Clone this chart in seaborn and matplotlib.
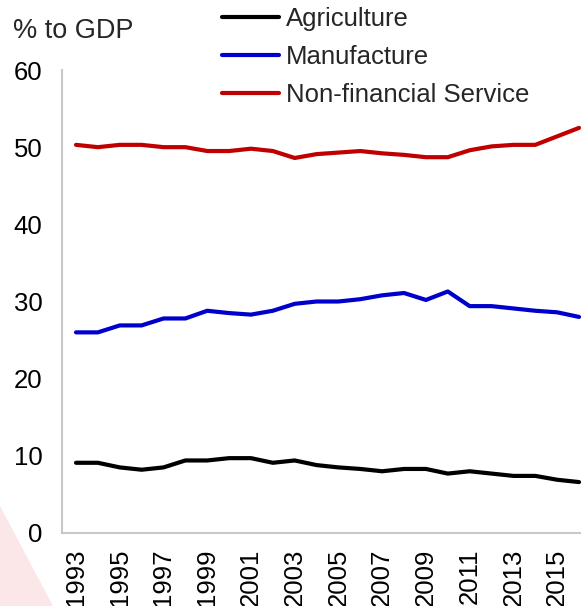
import matplotlib
matplotlib.use('Agg')
import matplotlib.pyplot as plt
from matplotlib.patches import Polygon
import pandas as pd
import seaborn as sns

years = list(range(1993, 2017))
agriculture = [9.1, 9.1, 8.5, 8.2, 8.5, 9.4, 9.4, 9.7, 9.7, 9.1, 9.4, 8.8,
               8.5, 8.3, 8.0, 8.3, 8.3, 7.7, 8.0, 7.7, 7.4, 7.4, 6.9, 6.6]
manufacture = [26.0, 26.0, 26.9, 26.9, 27.8, 27.8, 28.8, 28.5, 28.3, 28.8, 29.7, 30.0,
               30.0, 30.3, 30.8, 31.1, 30.2, 31.3, 29.4, 29.4, 29.1, 28.8, 28.6, 28.0]
services = [50.3, 50.0, 50.3, 50.3, 50.0, 50.0, 49.5, 49.5, 49.8, 49.5, 48.6, 49.1,
            49.3, 49.5, 49.2, 49.0, 48.7, 48.7, 49.6, 50.1, 50.3, 50.3, 51.4, 52.5]
series_names = ['Agriculture', 'Manufacture', 'Non-financial Service']
colors = ['#000000', '#0000cc', '#c00000']
tick_years = list(range(1993, 2016, 2))

df = pd.DataFrame({'year': years * 3,
                   'value': agriculture + manufacture + services,
                   'sector': [series_names[0]] * len(years) + [series_names[1]] * len(years)
                             + [series_names[2]] * len(years)})

sns.set_style('white')
plt.rcParams['font.family'] = ['Liberation Sans', 'DejaVu Sans']

fig = plt.figure(figsize=(5.81, 6.06), dpi=100)
# faint pink decoration in the lower left corner
fig.patches.append(Polygon([(0, 0), (0, 100 / 606), (53 / 581, 0)], closed=True,
                           transform=fig.transFigure, facecolor='#fbe7e7',
                           edgecolor='none', zorder=0))
ax = fig.add_axes([62 / 581, 1 - 533 / 606, 1 - 62 / 581, (533 - 70) / 606])
ax.patch.set_alpha(0)

sns.lineplot(data=df, x='year', y='value', hue='sector', palette=colors,
             linewidth=3, ax=ax, legend=False)

ax.set_xlim(1992.36, 2016.09)
ax.set_ylim(0, 60)
ax.set_yticks(range(0, 61, 10))
ax.set_xticks(tick_years)
ax.set_xticklabels([str(y) for y in tick_years], rotation=90)
ax.tick_params(axis='both', length=0, labelsize=18.5, colors='#000000')
ax.tick_params(axis='y', pad=14)
ax.tick_params(axis='x', pad=11)
ax.set_xlabel('')
ax.set_ylabel('')
for s in ['top', 'right']:
    ax.spines[s].set_visible(False)
for s in ['left', 'bottom']:
    ax.spines[s].set_color('#c8c8c8')
    ax.spines[s].set_linewidth(1.5)

fig.text(13 / 581, 1 - 31 / 606, '% to GDP', fontsize=19.5, va='center', ha='left')

handles = [plt.Line2D([], [], color=c, lw=3) for c in colors]
fig.legend(handles, series_names, loc='upper left', bbox_to_anchor=(222 / 581, 1 - 7 / 606),
           frameon=False, fontsize=18.5, handlelength=2.2, handletextpad=0.3,
           labelspacing=0.55, borderpad=0, borderaxespad=0)

fig.savefig('out.png', dpi=100)
